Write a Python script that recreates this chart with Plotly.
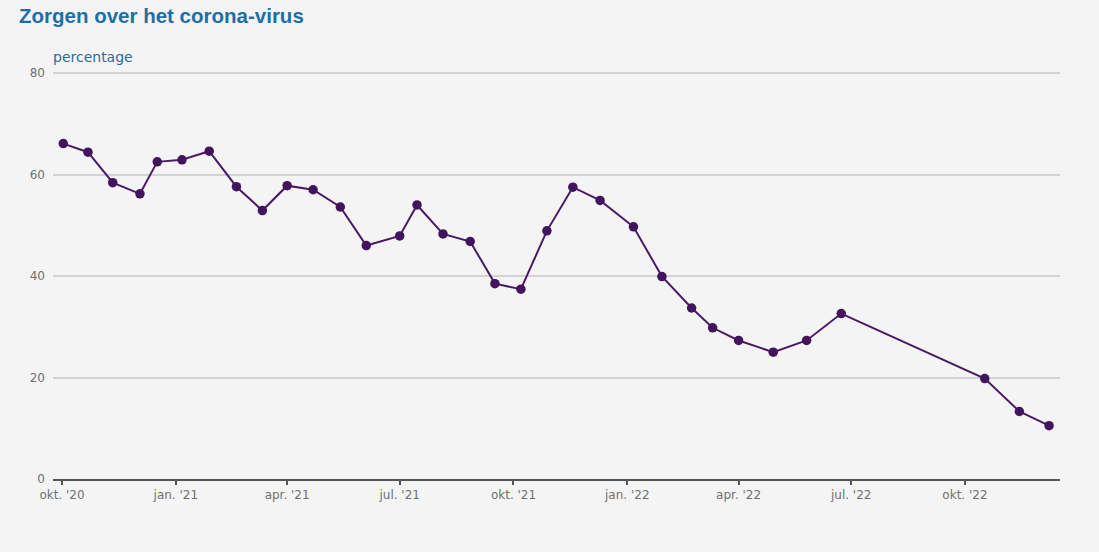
import plotly.graph_objects as go

dates = [
    "2020-10-02", "2020-10-22", "2020-11-11", "2020-12-03", "2020-12-17",
    "2021-01-06", "2021-01-28", "2021-02-19", "2021-03-12", "2021-04-01",
    "2021-04-22", "2021-05-14", "2021-06-04", "2021-07-01", "2021-07-15",
    "2021-08-05", "2021-08-27", "2021-09-16", "2021-10-07", "2021-10-28",
    "2021-11-18", "2021-12-10", "2022-01-06", "2022-01-29", "2022-02-22",
    "2022-03-11", "2022-04-01", "2022-04-29", "2022-05-26", "2022-06-23",
    "2022-10-17", "2022-11-14", "2022-12-08",
]
values = [
    66.1, 64.4, 58.4, 56.2, 62.5,
    62.9, 64.6, 57.6, 52.9, 57.8,
    57.0, 53.6, 46.0, 47.9, 54.0,
    48.3, 46.8, 38.5, 37.4, 48.9,
    57.5, 54.9, 49.7, 39.9, 33.7,
    29.8, 27.3, 25.0, 27.3, 32.6,
    19.8, 13.3, 10.5,
]
tick_dates = ["2020-10-01", "2021-01-01", "2021-04-01", "2021-07-01", "2021-10-01",
              "2022-01-01", "2022-04-01", "2022-07-01", "2022-10-01"]
tick_labels = ["okt. '20", "jan. '21", "apr. '21", "jul. '21", "okt. '21",
               "jan. '22", "apr. '22", "jul. '22", "okt. '22"]
y_ticks = [0, 20, 40, 60, 80]

W, H = 1099, 552
ML, MR, MT, MB = 53, 39, 71, 73
pw, ph = W - ML - MR, H - MT - MB

fig = go.Figure()
fig.add_trace(go.Scatter(
    x=dates, y=values, mode="lines+markers",
    line=dict(color="#4a1a66", width=2),
    marker=dict(color="#43145e", size=9.5),
    hoverinfo="x+y", showlegend=False,
))

small_font = "DejaVu Sans, Verdana, sans-serif"
fig.update_layout(
    width=W, height=H,
    paper_bgcolor="#f4f4f4", plot_bgcolor="#f4f4f4",
    margin=dict(l=ML, r=MR, t=MT, b=MB),
    font=dict(family=small_font, size=12, color="#666666"),
    xaxis=dict(
        type="date",
        range=["2020-09-23 17:00", "2022-12-16 20:00"],
        tickvals=tick_dates, ticktext=tick_labels,
        showgrid=False, zeroline=False,
        showline=True, linecolor="#555555", linewidth=2,
        ticks="outside", ticklen=4, tickcolor="#555555", tickwidth=2,
        tickfont=dict(size=12, color="#707070", family=small_font),
    ),
    yaxis=dict(
        range=[0, 80.4], tickvals=y_ticks,
        showgrid=True, gridcolor="#d2d2d2", gridwidth=1.5,
        zeroline=False, showline=False, ticks="",
        tickfont=dict(size=12, color="#707070", family=small_font),
        ticklabelstandoff=7,
    ),
    annotations=[
        dict(text="<b>Zorgen over het corona-virus</b>",
             x=(17 - ML) / pw, y=(H - MB - 15.5) / ph,
             xref="paper", yref="paper", xanchor="left", yanchor="middle",
             showarrow=False,
             font=dict(size=20.5, color="#1c6fa7",
                       family="Liberation Sans, Arial, sans-serif")),
        dict(text="percentage",
             x=(51 - ML) / pw, y=(H - MB - 57) / ph,
             xref="paper", yref="paper", xanchor="left", yanchor="middle",
             showarrow=False,
             font=dict(size=14, color="#2a6d9e", family=small_font)),
    ],
)

fig.write_html(
    "out.html",
    config={"displayModeBar": False},
    post_script="document.body.style.margin='0';document.body.style.background='#f4f4f4';",
)
